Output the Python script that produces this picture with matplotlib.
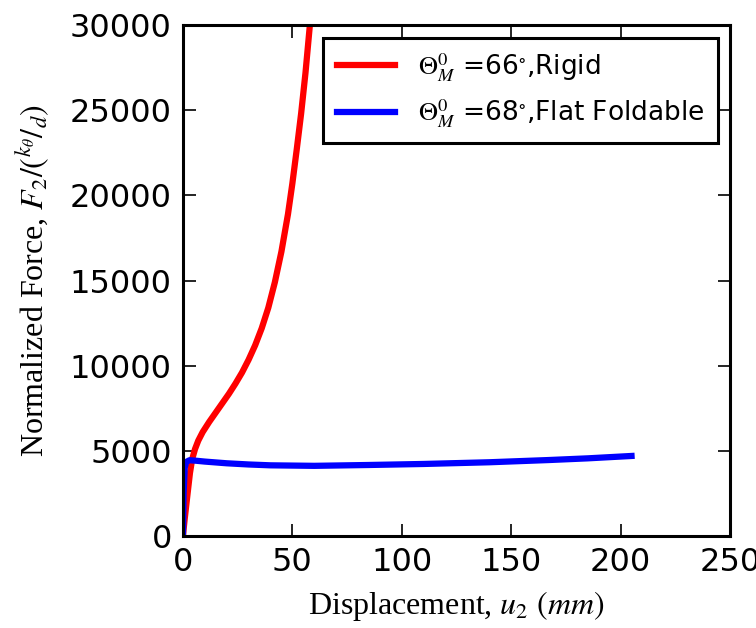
import numpy as np
import matplotlib
matplotlib.use("Agg")
import matplotlib.pyplot as plt

# data
rigid_x = [0, 0.3, 0.8, 1.5, 2.3, 3.2, 4.2, 5.5, 7, 9, 12, 15, 18, 21, 24, 27, 30,
           33, 36, 39, 42, 45, 48, 50, 52, 54, 56, 58]
rigid_y = [0, 400, 1000, 1800, 2700, 3700, 4500, 5100, 5600, 6100, 6700, 7250, 7800,
           8350, 8950, 9600, 10350, 11200, 12200, 13400, 14900, 16700, 18900, 20700,
           22700, 24800, 27200, 30000]

flat_x = [0, 0.3, 0.8, 1.5, 3, 6, 10, 20, 30, 40, 60, 85, 110, 140, 167, 185, 205]
flat_y = [0, 2500, 4000, 4350, 4450, 4420, 4370, 4270, 4200, 4150, 4120, 4170, 4230,
          4330, 4460, 4560, 4700]

labels = [r"$\Theta_M^0$ =66$^{\circ}$,Rigid", r"$\Theta_M^0$ =68$^{\circ}$,Flat Foldable"]

plt.rcParams['mathtext.fontset'] = 'stix'

fig = plt.figure(figsize=(7.56, 6.28), dpi=100)
ax = fig.add_axes([0.242, 0.1465, 0.7236, 0.8135])

ax.plot(rigid_x, rigid_y, color='red', lw=4.5, label=labels[0])
ax.plot(flat_x, flat_y, color='blue', lw=4.5, label=labels[1])

ax.set_xlim(0, 250)
ax.set_ylim(0, 30000)
ax.set_xticks([0, 50, 100, 150, 200, 250])
ax.set_yticks([0, 5000, 10000, 15000, 20000, 25000, 30000])
ax.tick_params(direction='in', length=9, width=1.2, top=True, right=True,
               labelsize=23, pad=8)
for s in ax.spines.values():
    s.set_linewidth(2.2)

ax.set_xlabel(r"Displacement, $u_2$ $(mm)$", family='Liberation Serif', fontsize=23, labelpad=8)
ax.set_ylabel(r"Normalized Force, $F_2/\left({}^{k_\theta}/_{d}\right)$", family='Liberation Serif',
              fontsize=23, labelpad=13)

leg = ax.legend(loc='upper right', fontsize=19, fancybox=False, framealpha=1,
                handlelength=2.2, handletextpad=0.9, borderpad=0.5, labelspacing=0.5,
                borderaxespad=0, bbox_to_anchor=(0.978, 0.975))
leg.get_frame().set_edgecolor('black')
leg.get_frame().set_linewidth(2.2)

fig.savefig("out.png", dpi=100)
